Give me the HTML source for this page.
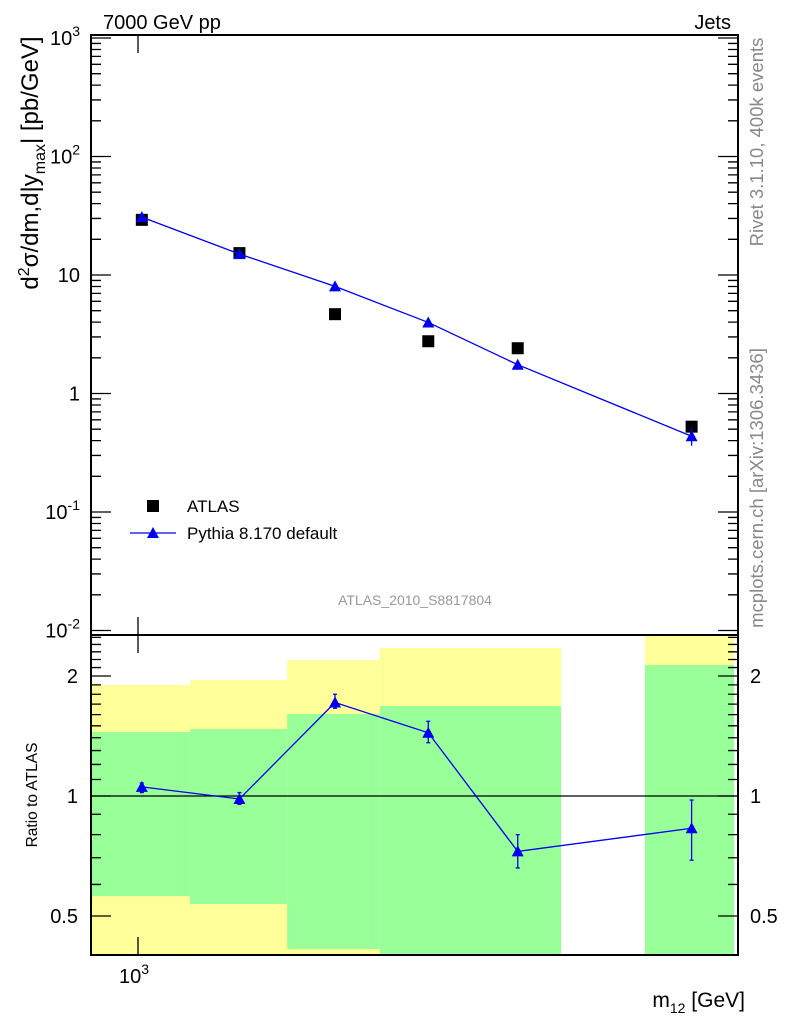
<!DOCTYPE html>
<html><head><meta charset="utf-8">
<style>
html,body{margin:0;padding:0;background:#fff;}
svg{display:block;font-family:"Liberation Sans",Arial,sans-serif;}
</style></head>
<body>
<svg id="chart" width="786" height="1024" viewBox="0 0 786 1024" xmlns="http://www.w3.org/2000/svg">
<text x="103" y="29" font-size="20">7000 GeV pp</text>
<text x="731" y="29" font-size="20" text-anchor="end">Jets</text>
<text transform="translate(763,142) rotate(-90)" font-size="18.5" fill="#888" text-anchor="middle">Rivet 3.1.10,  400k events</text>
<text transform="translate(763,488) rotate(-90)" font-size="18.5" fill="#888" text-anchor="middle">mcplots.cern.ch [arXiv:1306.3436]</text>
<text transform="translate(38,163) rotate(-90)" font-size="24" text-anchor="middle">d<tspan dy="-9" font-size="16">2</tspan><tspan dy="9">σ/dm,d|y</tspan><tspan dy="7" font-size="16">max</tspan><tspan dy="-7">| [pb/GeV]</tspan></text>
<text transform="translate(37,795) rotate(-90)" font-size="15.5" text-anchor="middle">Ratio to ATLAS</text>
<text x="745" y="1007" font-size="21" text-anchor="end">m<tspan dy="6" font-size="14">12</tspan><tspan dy="-6"> [GeV]</tspan></text>
<text x="415" y="605" font-size="14" fill="#999" text-anchor="middle">ATLAS_2010_S8817804</text>
<g id="bands"></g>
<g id="main"></g>
<g id="ratio"></g>
<g id="axes"></g>
<g>
  <rect x="147" y="500" width="12" height="12" fill="#000"/>
  <text x="187" y="512" font-size="17">ATLAS</text>
  <line x1="130" y1="533" x2="176" y2="533" stroke="#0000ee" stroke-width="1.3"/>
  <polygon points="153,527 147,538 159,538" fill="#0000ee"/>
  <text x="187" y="539" font-size="17">Pythia 8.170 default</text>
</g>
</svg>
<script>
const binEdges = [952, 1056, 1169, 1288, 1557, 1700, 1866];
const binCenters = [1004, 1112, 1229, 1355, 1488, 1785];
const atlasValues = [29.2, 15.3, 4.67, 2.76, 2.41, 0.525];
const pythiaRatio = [1.054, 0.983, 1.716, 1.441, 0.726, 0.830];
const ratioErrUp = [1.078, 1.02, 1.80, 1.54, 0.80, 0.977];
const ratioErrDown = [1.02, 0.953, 1.66, 1.36, 0.66, 0.69];
const yellowTop = [1.898, 1.953, 2.193, 2.352, null, 2.6];
const greenTop = [1.447, 1.473, 1.606, 1.682, null, 2.131];
const greenBottom = [0.561, 0.536, 0.413, 0.35, null, 0.35];
const yellowBottom = [0.3, 0.3, 0.3, 0.35, null, 0.35];
const yTickLabels = ["10<sup>-2</sup>", "10<sup>-1</sup>", "1", "10", "10<sup>2</sup>", "10<sup>3</sup>"];
const ratioMajor = [0.5, 1, 2];

const NS = "http://www.w3.org/2000/svg";
const L = 91, R = 738, T = 35, MB = 635, RB = 955;
const X = m => 138 + Math.log10(m / 1000) * 2200;
const Y = v => 393.5 - Math.log10(v) * 118.5;
const RY = r => 796 - Math.log2(r) * 120;
function mk(tag, attrs, parent) {
  const e = document.createElementNS(NS, tag);
  for (const k in attrs) e.setAttribute(k, attrs[k]);
  parent.appendChild(e); return e;
}
const bands = document.getElementById('bands');
const main = document.getElementById('main');
const ratio = document.getElementById('ratio');
const axes = document.getElementById('axes');
const clampR = y => Math.max(MB, Math.min(RB, y));

for (let i = 0; i < binCenters.length; i++) {
  if (yellowTop[i] === null) continue;
  const x1 = Math.max(L, X(binEdges[i])), x2 = Math.min(R - 3, X(binEdges[i + 1]));
  const yt = clampR(RY(yellowTop[i])), yb = clampR(RY(yellowBottom[i]));
  const r1 = mk('rect', {x: x1, y: yt, width: x2 - x1, height: yb - yt, fill: '#ffff99'}, bands);
  
  
  const gt = clampR(RY(greenTop[i])), gb = clampR(RY(greenBottom[i]));
  const r2 = mk('rect', {x: x1, y: gt, width: x2 - x1, height: gb - gt, fill: '#99ff99'}, bands);
  
  
}

let pts = [];
for (let i = 0; i < binCenters.length; i++) {
  const x = X(binCenters[i]);
  const sq = mk('rect', {x: x - 6, y: Y(atlasValues[i]) - 6, width: 12, height: 12, fill: '#000'}, main);
  
  
  pts.push([x, Y(atlasValues[i] * pythiaRatio[i])]);
}
const pl = mk('polyline', {points: pts.map(p => p.join(',')).join(' '), fill: 'none', stroke: '#0000ee', 'stroke-width': 1.3}, main);


for (let i = 0; i < binCenters.length; i++) {
  const [x, y] = pts[i];
  const tri = mk('polygon', {points: `${x},${y - 6} ${x - 6},${y + 5} ${x + 6},${y + 5}`, fill: '#0000ee'}, main);
  
  
  const yu = Y(atlasValues[i] * ratioErrUp[i]), yd = Y(atlasValues[i] * ratioErrDown[i]);
  const eb = mk('line', {x1: x, x2: x, y1: yu, y2: yd, stroke: '#0000ee', 'stroke-width': 1.3}, main);
  
  
}

const one = mk('line', {x1: L, x2: R, y1: RY(1), y2: RY(1), stroke: '#000', 'stroke-width': 1.3}, ratio);


let rpts = binCenters.map((c, i) => [X(c), RY(pythiaRatio[i])]);
const rl = mk('polyline', {points: rpts.map(p => p.join(',')).join(' '), fill: 'none', stroke: '#0000ee', 'stroke-width': 1.3}, ratio);


for (let i = 0; i < binCenters.length; i++) {
  const [x, y] = rpts[i];
  const yu = RY(ratioErrUp[i]), yd = RY(ratioErrDown[i]);
  const eb = mk('path', {d: `M${x},${yu}V${yd}M${x - 2},${yu}H${x + 2}M${x - 2},${yd}H${x + 2}`, stroke: '#0000ee', 'stroke-width': 1.3, fill: 'none'}, ratio);
  
  
  const tri = mk('polygon', {points: `${x},${y - 6} ${x - 6},${y + 5} ${x + 6},${y + 5}`, fill: '#0000ee'}, ratio);
  
  
}

const f1 = mk('rect', {x: L, y: T, width: R - L, height: MB - T, fill: 'none', stroke: '#000', 'stroke-width': 2}, axes);


const f2 = mk('rect', {x: L, y: MB, width: R - L, height: RB - MB, fill: 'none', stroke: '#000', 'stroke-width': 2}, axes);



let d = '';
for (let e = -3; e <= 3; e++) {
  for (let k = 1; k <= 9; k++) {
    const y = Y(k * Math.pow(10, e));
    if (y < T || y > MB) continue;
    const len = k === 1 ? 20 : 10;
    d += `M${L},${y}H${L + len}M${R},${y}H${R - len}`;
  }
}
d += `M${X(1000)},${T}V${T + 18}M${X(1000)},${MB}V${MB - 18}M${X(1000)},${MB}V${MB + 18}M${X(1000)},${RB}V${RB - 18}`;
for (let r = 0.4; r <= 2.55; r += 0.1) {
  const rr = Math.round(r * 10) / 10;
  const y = RY(rr);
  if (y < MB || y > RB) continue;
  const len = ratioMajor.includes(rr) ? 20 : 10;
  d += `M${L},${y}H${L + len}M${R},${y}H${R - len}`;
}
const tk = mk('path', {d: d, stroke: '#000', 'stroke-width': 1.3, fill: 'none'}, axes);



for (let e = -2; e <= 3; e++) {
  const y = Y(Math.pow(10, e));
  const t = mk('text', {x: 80, y: y + 7, 'font-size': 20, 'text-anchor': 'end'}, axes);
  
  
  const lab = yTickLabels[e + 2];
  if (lab.includes('<sup>')) {
    const base = lab.split('<sup>')[0], sup = lab.split('<sup>')[1].replace('</sup>', '');
    t.textContent = base;
    const s = mk('tspan', {dy: -9, 'font-size': 14}, t);
    s.textContent = sup;
  } else t.textContent = lab;
}
for (const r of ratioMajor) {
  const y = RY(r);
  const a = mk('text', {x: 78, y: y + 7, 'font-size': 20, 'text-anchor': 'end'}, axes);
  a.textContent = String(r);
  
  
  const b = mk('text', {x: 750, y: y + 7, 'font-size': 20}, axes);
  b.textContent = String(r);
  
  
}
const xt = mk('text', {x: X(1000) - 4, y: 983, 'font-size': 20, 'text-anchor': 'middle'}, axes);


xt.textContent = '10';
const xs = mk('tspan', {dy: -9, 'font-size': 14}, xt);
xs.textContent = '3';
</script>
</body></html>
